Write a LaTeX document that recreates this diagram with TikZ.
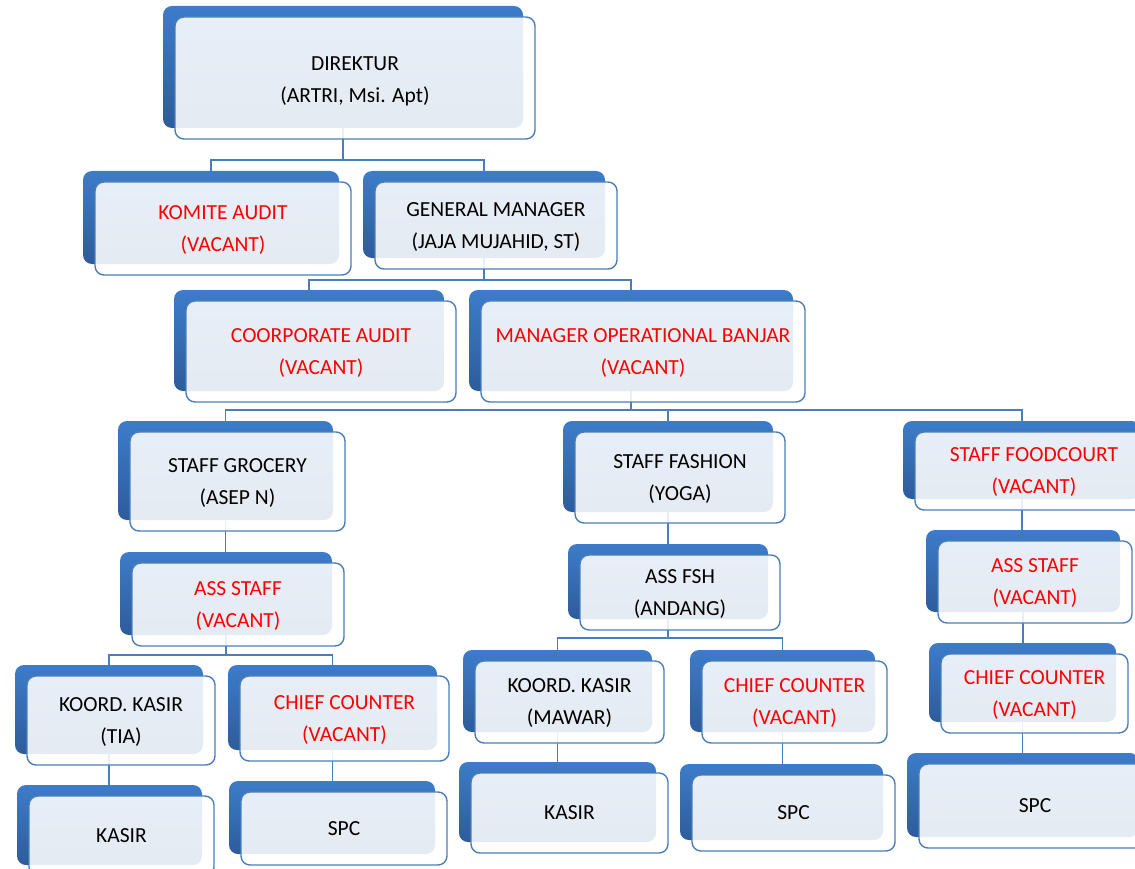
\documentclass[tikz,border=0pt]{standalone}
\usepackage{fontspec}
\setmainfont{Carlito}
\usetikzlibrary{positioning,backgrounds}

\definecolor{boxblue}{HTML}{3D7CC9}
\definecolor{boxdark}{HTML}{2D5C9B}
\definecolor{edgeblue}{HTML}{4A7EBB}

\tikzset{
  backbox/.style={rectangle, rounded corners=9pt, top color=boxblue, bottom color=boxdark,
    inner sep=0pt, outer sep=0pt},
  frontbox/.style={rectangle, rounded corners=9pt, draw=edgeblue, line width=1.4pt,
    fill=white, fill opacity=0.88, inner sep=0pt, outer sep=0pt},
  posttext/.style={align=center, inner sep=0pt, font=\fontsize{21.5}{32}\selectfont},
  vacant/.style={text=red},
  link/.style={draw=edgeblue, line width=1.4pt},
}

% one post: blue card behind, light card in front, text on top
% [text options] {name}{x}{y}{width}{height}{text}
\newcommand{\orgpost}[7][]{%
  \node[backbox, anchor=north west, minimum width=#5pt, minimum height=#6pt] (#2) at (#3,#4) {};
  \node[frontbox, minimum width=#5pt, minimum height=#6pt,
        below right=11pt and 12pt of #2.north west] (#2-f) {};
  \node[posttext, #1] (#2-t) at ([yshift=-1.5pt]#2-f.center) {#7};}

\begin{document}
\begin{tikzpicture}[x=1pt,y=-1pt]
\useasboundingbox (0,0) rectangle (1135,869);

% top
\orgpost[yshift=-1.5pt]{dir}{163}{6}{360}{122}{DIREKTUR\\(ARTRI, Msi. Apt)}
\orgpost[vacant]{ka}{83}{171}{256}{93}{KOMITE AUDIT\\(VACANT)}
\orgpost{gm}{363}{171}{242}{87}{GENERAL MANAGER\\(JAJA MUJAHID, ST)}
\orgpost[vacant]{ca}{174}{290}{270}{101}{COORPORATE AUDIT\\(VACANT)}
\orgpost[vacant]{mob}{469}{290}{324}{101}{MANAGER OPERATIONAL BANJAR\\(VACANT)}

% staff
\orgpost{sg}{118}{421}{215}{99}{STAFF GROCERY\\(ASEP N)}
\orgpost{sf}{563}{421}{210}{91}{STAFF FASHION\\(YOGA)}
\orgpost[vacant]{sfc}{903}{421}{238}{78}{STAFF FOODCOURT\\(VACANT)}

% assistants
\orgpost[vacant]{as1}{120}{552}{212}{83}{ASS STAFF\\(VACANT)}
\orgpost{afsh}{568}{544}{200}{75}{ASS FSH\\(ANDANG)}
\orgpost[vacant]{as3}{926}{530}{194}{82}{ASS STAFF\\(VACANT)}

% koord / chief
\orgpost{kk1}{15}{665}{188}{89}{KOORD. KASIR\\(TIA)}
\orgpost[vacant]{cc1}{228}{665}{209}{85}{CHIEF COUNTER\\(VACANT)}
\orgpost{kk2}{463}{650}{189}{82}{KOORD. KASIR\\(MAWAR)}
\orgpost[vacant]{cc2}{690}{650}{185}{82}{CHIEF COUNTER\\(VACANT)}
\orgpost[vacant]{cc3}{929}{643}{187}{79}{CHIEF COUNTER\\(VACANT)}

% bottom row
\orgpost[yshift=1.5pt]{kas1}{17}{785}{185}{80}{KASIR}
\orgpost[yshift=1.5pt]{spc1}{229}{781}{206}{73}{SPC}
\orgpost[yshift=1.5pt]{kas2}{459}{762}{197}{80}{KASIR}
\orgpost[yshift=1.5pt]{spc2}{680}{764}{203}{76}{SPC}
\orgpost[yshift=1.5pt]{spc3}{907}{753}{232}{84}{SPC}

% links
\begin{scope}[on background layer]
  \path[link] (dir.south) -- ++(0,32) -| (ka.north)
              (dir.south) -- ++(0,32) -| (gm.north);
  \path[link] (gm.south) -- ++(0,22) -| (ca.north)
              (gm.south) -- ++(0,22) -| (mob.north);
  \path[link] (mob.south) -- ++(0,19) -| (sg.north)
              (mob.south) -- ++(0,19) -| (sf.north)
              (mob.south) -- ++(0,19) -| (sfc.north);
  \path[link] (sg.south) -- (sg.south |- as1.north)
              (sf.south) -- (sf.south |- afsh.north)
              (sfc.south) -- (sfc.south |- as3.north);
  \path[link] (as1.south) -- ++(0,20) -| (kk1.north)
              (as1.south) -- ++(0,20) -| (cc1.north);
  \path[link] (afsh.south) -- ++(0,19) -| (kk2.north)
              (afsh.south) -- ++(0,19) -| (cc2.north);
  \path[link] (as3.south) -- (as3.south |- cc3.north);
  \path[link] (kk1.south) -- (kk1.south |- kas1.north)
              (cc1.south) -- (cc1.south |- spc1.north)
              (kk2.south) -- (kk2.south |- kas2.north)
              (cc2.south) -- (cc2.south |- spc2.north)
              (cc3.south) -- (cc3.south |- spc3.north);
\end{scope}

\end{tikzpicture}
\end{document}
